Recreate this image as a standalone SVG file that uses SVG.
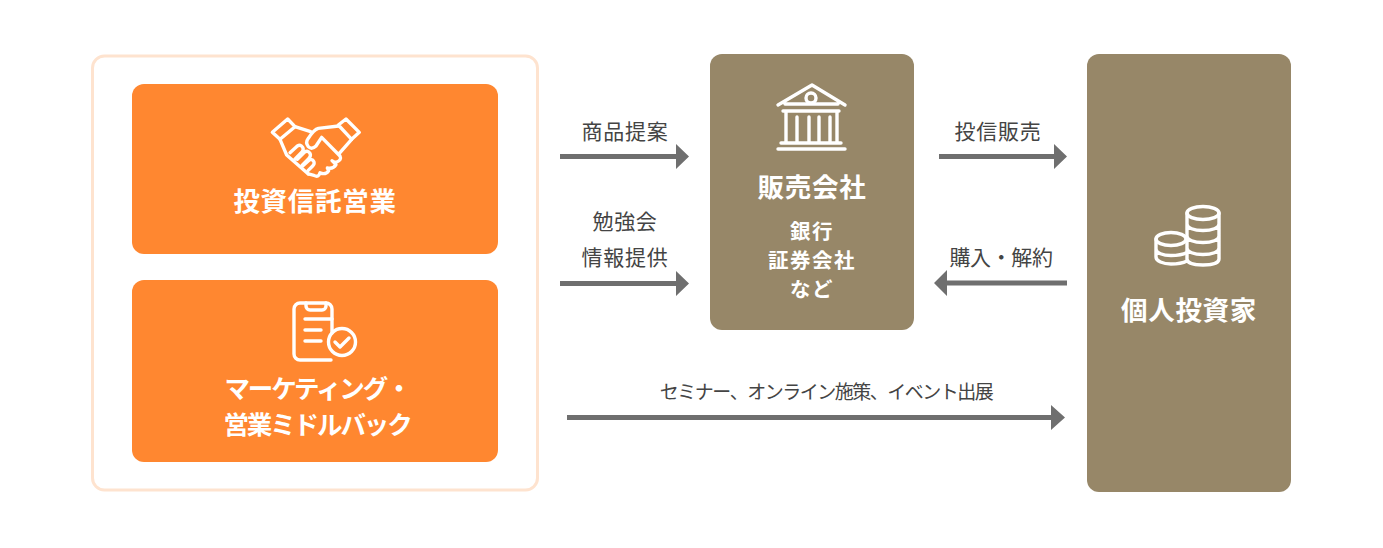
<svg xmlns="http://www.w3.org/2000/svg" width="1383" height="548" viewBox="0 0 1383 548">
<defs><style>
text{font-family:"Noto Sans CJK JP","Noto Sans",sans-serif;text-anchor:middle}
.h{fill:#fff;font-weight:700;font-size:26.500px;letter-spacing:.7px}
.k{fill:#fff;font-weight:700;font-size:25.500px;letter-spacing:-2.100px}
.s{fill:#fff;font-weight:700;font-size:20.500px;letter-spacing:1.500px}
.l{fill:#444;font-size:21px;letter-spacing:.7px}
.w{fill:#444;font-size:19px;letter-spacing:-1.500px}
.o{fill:#ff8730}
.b{fill:#978768}
.i{fill:none;stroke:#fff;stroke-width:3.4;stroke-linecap:round;stroke-linejoin:round}
.t{fill:none;stroke:#fff;stroke-width:10;stroke-linecap:round;stroke-linejoin:round}
.c{stroke:#6f6f6f;stroke-width:5;fill:none}
.a{fill:#6f6f6f}
</style></defs>
<rect width="1383" height="548" fill="#fff"/>
<g id="group-frame"><rect x="92.500" y="56" width="445" height="434" rx="12" fill="#fff" stroke="#fee3cf" stroke-width="3"/></g>
<g id="node-sales">
<rect class="o" x="132" y="84" width="366" height="170" rx="12"/>
<g class="t" transform="translate(240 100) scale(.3333)">
<path d="M97 97L143 57L165 80L120 118ZM295 75L318 57L358 97L335 118Z"/>
<path d="M165 80L212 95M296 78L235 85Q222 88 205 115Q195 128 205 140Q215 150 228 138L245 112L300 168Q306 180 290 186Q282 188 276 182L288 194Q280 208 262 204L266 212Q256 226 240 218Q236 234 222 226L205 222"/>
<path d="M335 118L298 160M120 118L140 165L205 222"/>
<path d="M150 158L172 138Q182 132 188 142Q192 150 186 156L164 178M172 178L194 156Q204 150 210 160Q214 168 206 176L186 196M188 198L208 180Q218 176 222 186Q224 192 218 198L204 212"/>
</g>
<text class="h" x="315" y="211">投資信託営業</text>
</g>
<g id="node-marketing">
<rect class="o" x="132" y="280" width="366" height="182" rx="12"/>
<g class="i">
<path d="M332 333v-24a6 6 0 0 0-6-6h-26a6 6 0 0 0-6 6v45a6 6 0 0 0 6 6h31"/>
<path d="M306 303v3a4 4 0 0 0 4 4h12a4 4 0 0 0 4-4v-3M305 319h27M305 330h16M305 341h16"/>
<circle cx="342" cy="342" r="13.500"/>
<path d="M335 342l5 5 9-9"/>
</g>
<text class="k" x="317" y="398">マーケティング・</text>
<text class="k" x="317" y="434">営業ミドルバック</text>
</g>
<g id="node-distributor">
<rect class="b" x="710" y="54" width="204" height="276" rx="12"/>
<g class="i">
<path d="M778 105l34-20 33 20M785 104h53"/>
<circle cx="811" cy="98" r="5"/>
<path d="M783 111h56M786 111v32M797 117v26M809 117v26M819 117v26M830 117v26M837 111v32M781 143h60"/>
<path d="M778 149h67"/>
</g>
<text class="h" x="812" y="197">販売会社</text>
<text class="s" x="812" y="239">銀行</text>
<text class="s" x="812" y="268">証券会社</text>
<text class="s" x="812" y="297">など</text>
</g>
<g id="node-investor">
<rect class="b" x="1087" y="54" width="204" height="438" rx="12"/>
<g class="i">
<ellipse cx="1203" cy="213" rx="16" ry="6.500"/>
<path d="M1187 213v46c0 4 7 6 16 6s16-2 16-6v-46M1187 224c0 4 7 6.500 16 6.500s16-2.500 16-6.500M1187 236c0 4 7 6.500 16 6.500s16-2.500 16-6.500M1187 248c0 4 7 6.500 16 6.500s16-2.500 16-6.500"/>
<ellipse cx="1171" cy="239" rx="15" ry="6.500"/>
<path d="M1156 239v18c0 4 7 7 15 7 6 0 12-1 16-3M1156 249c0 4 7 6.500 15 6.500 6 0 12-1 16-3"/>
</g>
<text class="h" x="1189" y="320">個人投資家</text>
</g>
<g id="connectors">
<path class="c" d="M560 156.500h117M560 283.500h117M939 156.500h116M1067 283h-121M567 417.500h486"/>
<path class="a" d="M676 144l13 12.500-13 12.500zM676 271l13 12.500-13 12.500zM1054 144l13 12.500-13 12.500zM947 270l-13 13 13 13zM1051 405l14 12.500-14 12.500z"/>
</g>
<g id="labels">
<text class="l" x="625" y="139">商品提案</text>
<text class="l" x="625" y="229">勉強会</text>
<text class="l" x="625" y="265">情報提供</text>
<text class="l" x="998" y="139">投信販売</text>
<text class="l" x="1001" y="265" style="letter-spacing:-.4px">購入・解約</text>
<text class="w" x="826" y="399">セミナー、オンライン施策、イベント出展</text>
</g>
</svg>
